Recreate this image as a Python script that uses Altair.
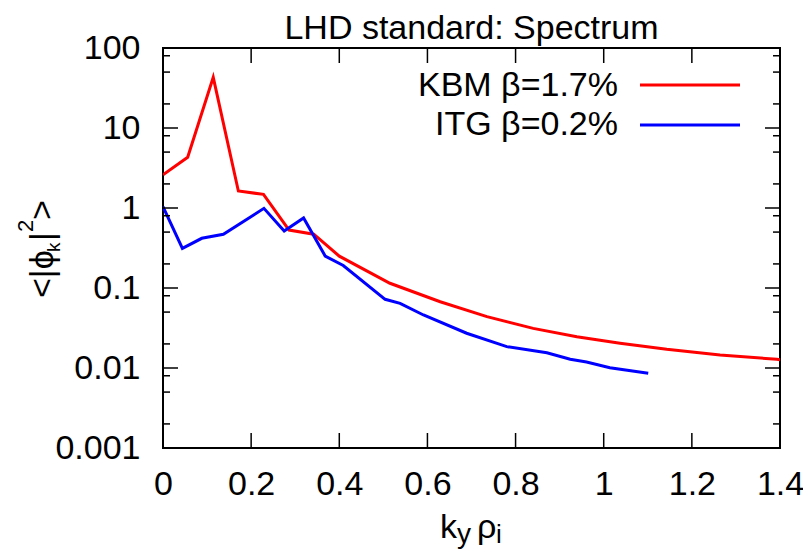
import altair as alt
import pandas as pd

# ---- data ----
kbm_x = [0.0, 0.056, 0.114, 0.171, 0.228, 0.286, 0.342, 0.40, 0.515, 0.629, 0.735, 0.84, 0.939, 1.037, 1.143, 1.264, 1.393, 1.4]
kbm_y = [2.6, 4.3, 43.0, 1.63, 1.48, 0.53, 0.47, 0.25, 0.1146, 0.0674, 0.0438, 0.0313, 0.0246, 0.0204, 0.0171, 0.01454, 0.01285, 0.0127]
itg_x = [0.0, 0.044, 0.088, 0.137, 0.229, 0.275, 0.319, 0.368, 0.409, 0.504, 0.538, 0.591, 0.689, 0.78, 0.871, 0.924, 0.961, 1.014, 1.101]
itg_y = [1.04, 0.313, 0.418, 0.469, 0.99, 0.516, 0.75, 0.251, 0.191, 0.0722, 0.0644, 0.046, 0.0272, 0.0185, 0.0155, 0.01285, 0.0119, 0.0101, 0.0086]

series_names = ["KBM \u03b2=1.7%", "ITG \u03b2=0.2%"]
series_colors = ["#ff0000", "#0000ff"]
title_text = "LHD standard: Spectrum"

x_label_values = [0, 0.2, 0.4, 0.6, 0.8, 1.0, 1.2, 1.4]
x_tick_values = [0.2, 0.4, 0.6, 0.8, 1.0, 1.2]
y_label_values = [0.001, 0.01, 0.1, 1, 10, 100]
y_major_ticks = [0.01, 0.1, 1, 10]
y_minor_ticks = [0.002, 0.005, 0.008, 0.02, 0.05, 0.08, 0.2, 0.5, 0.8, 2, 5, 8, 20, 50, 80]

W, H = 617, 400
FONT = "Liberation Sans"
FS = 34

xs = alt.Scale(domain=[0, 1.4], nice=False, zero=False)
ys = alt.Scale(type="log", domain=[0.001, 100], nice=False)

x_axis = alt.Axis(
    values=x_label_values, format="~g", title=None, grid=False, ticks=False, tickSize=0,
    domain=False, labelFontSize=FS, labelFont=FONT, labelPadding=19, labelFlush=False,
    labelOverlap=False, labelColor="black")
y_axis = alt.Axis(
    values=y_label_values, format="~g", title=None, grid=False, ticks=False, tickSize=0,
    domain=False, labelFontSize=FS, labelFont=FONT, labelPadding=23,
    labelOverlap=False, labelColor="black")

df = pd.concat([
    pd.DataFrame({"k": kbm_x, "phi": kbm_y, "series": series_names[0], "o": range(len(kbm_x))}),
    pd.DataFrame({"k": itg_x, "phi": itg_y, "series": series_names[1], "o": range(len(itg_x))}),
])

lines = alt.Chart(df).mark_line(strokeWidth=3, clip=True).encode(
    x=alt.X("k:Q", scale=xs, axis=x_axis),
    y=alt.Y("phi:Q", scale=ys, axis=y_axis),
    color=alt.Color("series:N", scale=alt.Scale(domain=series_names, range=series_colors), legend=None),
    order="o:Q",
)

def yticks(vals, length):
    d = pd.DataFrame({"phi": vals})
    left = alt.Chart(d).mark_rule(color="black", strokeWidth=1.5).encode(
        y=alt.Y("phi:Q", scale=ys, axis=y_axis), x=alt.value(0), x2=alt.value(length))
    right = alt.Chart(d).mark_rule(color="black", strokeWidth=1.5).encode(
        y=alt.Y("phi:Q", scale=ys, axis=y_axis), x=alt.value(W - length), x2=alt.value(W))
    return [left, right]

def xticks(vals, length):
    d = pd.DataFrame({"k": vals})
    top = alt.Chart(d).mark_rule(color="black", strokeWidth=1.5).encode(
        x=alt.X("k:Q", scale=xs, axis=x_axis), y=alt.value(0), y2=alt.value(length))
    bottom = alt.Chart(d).mark_rule(color="black", strokeWidth=1.5).encode(
        x=alt.X("k:Q", scale=xs, axis=x_axis), y=alt.value(H - length), y2=alt.value(H))
    return [top, bottom]

def txt(s, x, y, size=FS, align="left", angle=0):
    params = dict(font=FONT, fontSize=size, align=align, baseline="alphabetic", color="black")
    if angle:
        params["angle"] = angle
    return alt.Chart(pd.DataFrame({"t": [s]})).mark_text(**params).encode(
        x=alt.value(x), y=alt.value(y), text="t:N")

def legline(color, y):
    return alt.Chart(pd.DataFrame({"c": [color]})).mark_rule(color=color, strokeWidth=3).encode(
        x=alt.value(477), x2=alt.value(577), y=alt.value(y))

layers = [lines]
layers += yticks(y_major_ticks, 15) + yticks(y_minor_ticks, 7) + xticks(x_tick_values, 15)
layers += [
    txt(title_text, 308.5, -9, align="center"),
    txt(series_names[0], 455, 48, align="right"),
    txt(series_names[1], 455, 87, align="right"),
    legline(series_colors[0], 37),
    legline(series_colors[1], 77),
    # x-axis title  k_y rho_i
    txt("k", 277, 490),
    txt("y", 294, 495, size=28),
    txt("\u03c1", 314, 490),
    txt("i", 333, 495, size=26),
    # y-axis title  <|phi_k|^2>
    txt("<|\u03d5", -110, 250, angle=270),
    txt("k", -103, 204, size=19, angle=270),
    txt("|", -110, 193, angle=270),
    txt("2", -130, 184, size=22, angle=270),
    txt(">", -110, 172, angle=270),
]

chart = alt.layer(*layers).properties(
    width=W, height=H,
    autosize=alt.AutoSizeParams(type="none"),
    padding={"left": 155, "top": 40, "right": 23, "bottom": 102},
    background="white",
).configure_view(stroke="black", strokeWidth=2)

chart.save("out.html", embed_options={"renderer": "svg", "actions": False})
